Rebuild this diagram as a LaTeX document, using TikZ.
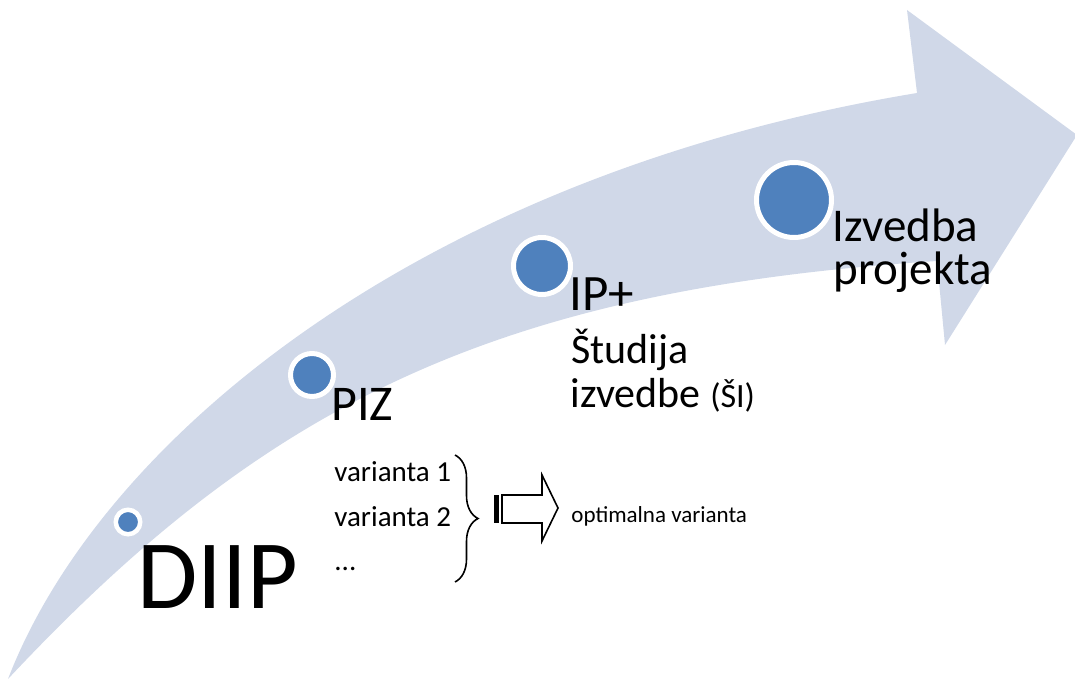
\documentclass[tikz,border=0pt]{standalone}
\usepackage{fontspec}
\setmainfont{Carlito}
\usetikzlibrary{decorations.pathreplacing}
\definecolor{bandcolor}{RGB}{208,216,232}
\definecolor{dotcolor}{RGB}{79,129,189}
\tikzstyle{Band}=[fill=bandcolor]
\tikzstyle{Dot}=[shape=circle, fill=dotcolor, draw=white, inner sep=0pt]
\tikzstyle{Label}=[anchor=base west, inner sep=0pt, text=black]
\tikzstyle{line}=[line width=0.8pt, draw=black]

\begin{document}
\begin{tikzpicture}[x=0.5pt, y=-0.5pt]
	\useasboundingbox (0,0) rectangle (1075,679);
	% curved arrow
	\fill [style=Band] (8,679) .. controls (100,440) and (420,175) .. (917,93)
		-- (907,10) -- (1077,135) -- (945,345) -- (937,261)
		.. controls (487,290) and (260,410) .. (8,679) -- cycle;

	% stages
	\node [style=Dot, minimum size=12.25pt, line width=2.25pt] (diip_dot) at (128,522) {};
	\node [style=Dot, minimum size=21.5pt, line width=2.5pt] (piz_dot) at (312,375) {};
	\node [style=Dot, minimum size=28.5pt, line width=2.5pt] (ip_dot) at (542,266) {};
	\node [style=Dot, minimum size=37.5pt, line width=2.5pt] (izv_dot) at (794,200) {};

	% labels
	\node [style=Label, font=\fontsize{49}{59}\selectfont] (diip) at (137,608) {DIIP};
	\node [style=Label, font=\fontsize{25}{30}\selectfont] (piz) at (331,420) {PIZ};
	\node [style=Label, font=\fontsize{25.5}{30}\selectfont] (ip) at (569,310) {IP+};
	\node [style=Label, font=\fontsize{21}{25}\selectfont] (studija) at (571,363) {Študija};
	\node [style=Label, font=\fontsize{21}{25}\selectfont] (izvedbe) at (570,407) {izvedbe {\fontsize{17}{20}\selectfont (ŠI)}};
	\node [style=Label, font=\fontsize{23.5}{28}\selectfont] (izvedba) at (832,242) {Izvedba};
	\node [style=Label, font=\fontsize{23.5}{28}\selectfont] (projekta) at (833,285) {projekta};

	% variants
	\node [style=Label, font=\fontsize{14.5}{17}\selectfont] (var1) at (334,481) {varianta 1};
	\node [style=Label, font=\fontsize{14.5}{17}\selectfont] (var2) at (334,526) {varianta 2};
	\node [style=Label, font=\fontsize{14.5}{17}\selectfont] (dots) at (334,570) {...};
	\coordinate (brace_top) at (455,455);
	\coordinate (brace_bot) at (455,582);
	\draw [style=line, decorate, decoration={brace, amplitude=11.5pt}] (brace_top) -- (brace_bot);

	% striped arrow
	\fill [black] (494,495) rectangle (499,523);
	\draw [style=line, fill=white, line join=miter] (502,495) -- (542,495) -- (542,475) -- (558,508) -- (542,541) -- (542,523) -- (502,523) -- cycle;
	\node [style=Label, font=\fontsize{11.5}{14}\selectfont] (optimal) at (571,522) {optimalna varianta};
\end{tikzpicture}
\end{document}
